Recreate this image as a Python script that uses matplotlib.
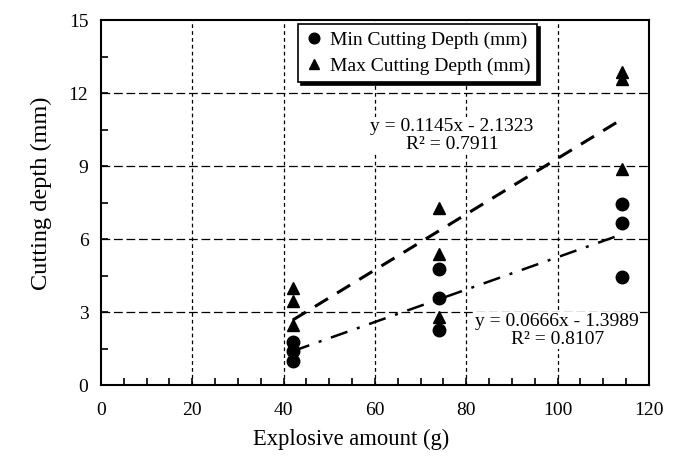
import matplotlib
matplotlib.use("Agg")
import matplotlib.pyplot as plt
import numpy as np
from matplotlib.ticker import MultipleLocator

plt.rcParams["font.family"] = ["Liberation Serif", "DejaVu Serif"]

# explosive amount (g) for each measured point
x_min = [42, 42, 42, 74, 74, 74, 114, 114, 114]
y_min = [1.77, 1.42, 0.99, 4.77, 3.60, 2.25, 7.45, 6.65, 4.45]

x_max = [42, 42, 42, 74, 74, 74, 114, 114, 114]
y_max = [3.99, 3.45, 2.47, 7.27, 5.38, 2.80, 12.85, 12.60, 8.90]

# linear trend coefficients (slope, intercept, R^2) as printed on the chart
fit_min = (0.0666, -1.3989, 0.8107)
fit_max = (0.1145, -2.1323, 0.7911)

fig = plt.figure(figsize=(6.82, 4.58), dpi=100)
ax = fig.add_axes([0.148, 0.159, 0.8036, 0.797])

ax.set_xlim(0, 120)
ax.set_ylim(0, 15)
ax.xaxis.set_major_locator(MultipleLocator(20))
ax.xaxis.set_minor_locator(MultipleLocator(5))
ax.yaxis.set_major_locator(MultipleLocator(3))
ax.yaxis.set_minor_locator(MultipleLocator(1.5))
ax.tick_params(which="both", direction="in", top=False, right=False,
               width=1.2, length=5, labelsize=14)
ax.tick_params(axis="x", which="both", pad=12)
ax.tick_params(axis="y", which="both", pad=9)

for spine in ax.spines.values():
    spine.set_linewidth(1.5)
    spine.set_color("black")

# grid lines (no grid on the border values)
for gx in range(20, 120, 20):
    ax.axvline(gx, color="black", lw=0.9, dashes=(3, 2.5), zorder=1)
for gy in range(3, 15, 3):
    ax.axhline(gy, color="black", lw=0.9, dashes=(7, 3), zorder=1)

ax.plot(x_min, y_min, "o", color="black", ms=9, zorder=4,
        label="Min Cutting Depth (mm)")
ax.plot(x_max, y_max, "^", color="black", ms=9, zorder=4,
        label="Max Cutting Depth (mm)")

xs = np.array([min(x_max), max(x_max)])
ax.plot(xs, fit_max[0] * xs + fit_max[1], color="black", lw=2.2,
        dashes=(5, 3.5), zorder=3)
xs = np.array([min(x_min), max(x_min)])
ax.plot(xs, fit_min[0] * xs + fit_min[1], color="black", lw=1.8,
        dashes=(7, 4, 1.2, 4), zorder=3)

box = dict(facecolor="white", edgecolor="none", pad=1)
ax.text(76.9, 10.25, f"y = {fit_max[0]:.4f}x - {abs(fit_max[1]):.4f}\nR² = {fit_max[2]:.4f}",
        ha="center", va="center", fontsize=14, linespacing=1.05, bbox=box, zorder=5)
ax.text(99.9, 2.25, f"y = {fit_min[0]:.4f}x - {abs(fit_min[1]):.4f}\nR² = {fit_min[2]:.4f}",
        ha="center", va="center", fontsize=14, linespacing=1.05, bbox=box, zorder=5)

leg = ax.legend(loc="upper center", bbox_to_anchor=(0.578, 1.0), fontsize=14,
                frameon=True, fancybox=False, shadow={"color": "black", "alpha": 1},
                handletextpad=0.4, handlelength=0.9, borderpad=0.35,
                labelspacing=0.45, borderaxespad=0.2, markerscale=0.85)
leg.get_frame().set_edgecolor("black")
leg.get_frame().set_linewidth(1.2)
leg.set_zorder(6)

ax.set_xlabel("Explosive amount (g)", fontsize=16.3)
ax.xaxis.set_label_coords(0.456, -0.12)
ax.set_ylabel("Cutting depth (mm)", fontsize=17.5)
ax.yaxis.set_label_coords(-0.09, 0.525)

fig.savefig("out.png", dpi=100)
